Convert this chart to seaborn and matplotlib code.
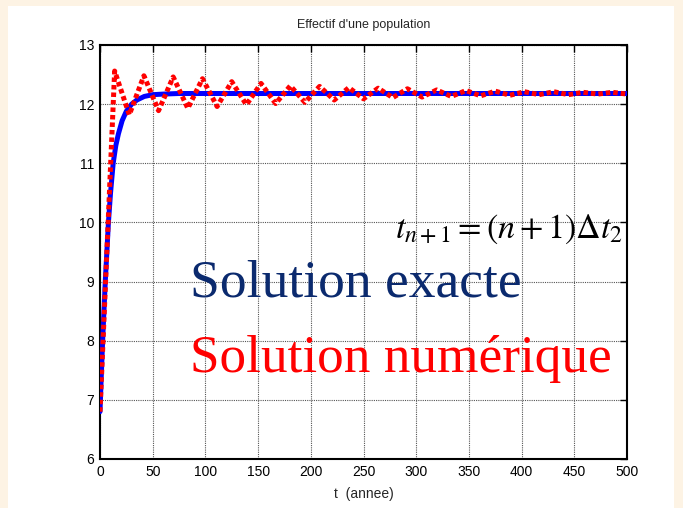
import seaborn as sns
import numpy as np
import matplotlib.pyplot as plt
from matplotlib.patches import Rectangle

# exact solution
t_exact = [0, 1, 2.5, 3.5, 5, 6.5, 8, 10, 12.5, 15, 17.5, 21, 25, 30, 35, 42, 50, 60, 75, 100, 500]
y_exact = [6.8, 7.3, 8.0, 8.4, 9.0, 9.5, 10.0, 10.5, 11.0, 11.3, 11.5, 11.72, 11.88, 12.0, 12.07,
           12.13, 12.16, 12.17, 12.18, 12.18, 12.18]

# numerical solution, 36 steps over 500 years
n_steps = 36
t_num = np.arange(n_steps + 1) * (500 / n_steps)
y_num = [6.8, 12.56, 11.82, 12.48, 11.89, 12.46, 11.93, 12.43, 11.96, 12.38, 11.99, 12.35, 12.01,
         12.31, 12.03, 12.30, 12.07, 12.28, 12.09, 12.27, 12.11, 12.26, 12.12, 12.24, 12.13, 12.23,
         12.14, 12.22, 12.15, 12.21, 12.16, 12.21, 12.16, 12.20, 12.17, 12.20, 12.17]

xticks = [0, 50, 100, 150, 200, 250, 300, 350, 400, 450, 500]
yticks = [6, 7, 8, 9, 10, 11, 12, 13]

sns.set_style('white')
plt.rcParams['font.family'] = ['Liberation Sans', 'DejaVu Sans']

fig = plt.figure(figsize=(6.83, 5.08), dpi=100, facecolor='#fdf3e4')
fig.patches.append(Rectangle((8 / 683, 0), 666 / 683, 1 - 6 / 508, transform=fig.transFigure,
                             facecolor='white', edgecolor='none', zorder=-10))
ax = fig.add_axes([100 / 683, 1 - 459 / 508, 527 / 683, 414 / 508])
ax.set_zorder(1)

sns.lineplot(x=t_exact, y=y_exact, ax=ax, color='#0000ff', linewidth=3.6, zorder=3)
sns.lineplot(x=t_num, y=y_num, ax=ax, color='#ff0000', linewidth=3.6,
             linestyle=(0, (0.9, 0.6)), zorder=4)

ax.set_xlim(0, 500)
ax.set_ylim(6, 13)
ax.set_xticks(xticks)
ax.set_yticks(yticks)
ax.tick_params(direction='in', length=5, width=1, top=True, right=True, labelsize=10, pad=4,
               colors='black')
ax.grid(True, linestyle=(0, (1, 1)), color='#555555', linewidth=0.8)
for s in ax.spines.values():
    s.set_visible(True)
    s.set_color('black')
    s.set_linewidth(1.5)

ax.set_title("Effectif d'une population", fontsize=9, pad=12)
ax.set_xlabel('t  (annee)', fontsize=10, labelpad=6)

ax.text(0.56, 0.534, r'$t_{n+1}=(n+1)\Delta t_2$', transform=ax.transAxes, fontsize=24.5,
        color='black', math_fontfamily='stix', ha='left', va='baseline')
ax.text(0.17, 0.392, 'Solution exacte', transform=ax.transAxes, fontsize=38.5,
        color='#0b2a6e', family='Liberation Serif', ha='left', va='baseline')
ax.text(0.17, 0.21, 'Solution numérique', transform=ax.transAxes, fontsize=38.3,
        color='#ff0000', family='Liberation Serif', ha='left', va='baseline')

fig.savefig('out.png', dpi=100, facecolor=fig.get_facecolor())
